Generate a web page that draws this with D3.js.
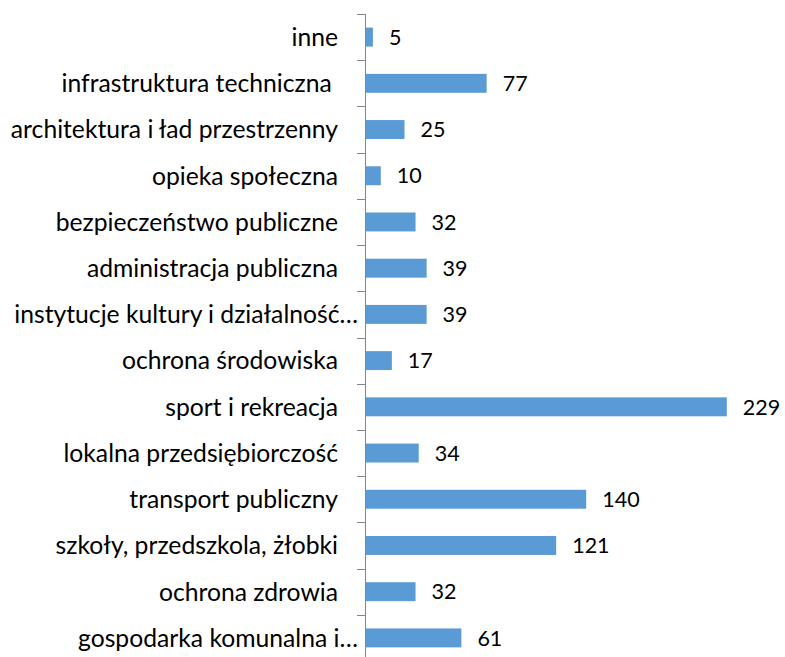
<!DOCTYPE html>
<html>
<head>
<meta charset="utf-8">
<script src="https://cdn.jsdelivr.net/npm/d3@7"></script>
<style>
  html, body { margin: 0; padding: 0; background: #fff; }
  svg { display: block; }
  text { font-family: Lato, "Open Sans", sans-serif; fill: #000; }
</style>
</head>
<body>
<svg id="chart" width="785" height="657"></svg>
<script>
// Categories listed top to bottom
const categories = [
  "inne",
  "infrastruktura techniczna ",
  "architektura i ład przestrzenny",
  "opieka społeczna",
  "bezpieczeństwo publiczne",
  "administracja publiczna",
  "instytucje kultury i działalność…",
  "ochrona środowiska",
  "sport i rekreacja",
  "lokalna przedsiębiorczość",
  "transport publiczny",
  "szkoły, przedszkola, żłobki",
  "ochrona zdrowia",
  "gospodarka komunalna i…"
];
const values = [5, 77, 25, 10, 32, 39, 39, 17, 229, 34, 140, 121, 32, 61];

const svg = d3.select("#chart");
const axisX = 365;
const labelRight = 338;      // right edge of full category labels
const truncatedRight = 358;  // shortened labels sit closer to the axis
const labelSize = 24.7;
const valueSize = 21.5;

const x = d3.scaleLinear().domain([0, 250]).range([axisX, axisX + 395]);
const y = d3.scaleBand().domain(categories).range([14, 661]).paddingInner(0.59).paddingOuter(0.295);

// Bars
svg.append("g").selectAll("rect")
  .data(categories)
  .join("rect")
  .attr("x", x(0))
  .attr("y", d => y(d))
  .attr("width", (d, i) => x(values[i]) - x(0))
  .attr("height", y.bandwidth())
  .attr("fill", "#5B9BD5");

// Value labels
svg.append("g").selectAll("text")
  .data(categories)
  .join("text")
  .attr("x", (d, i) => x(values[i]) + 16)
  .attr("y", d => y(d) + y.bandwidth() / 2)
  .attr("dy", "0.36em")
  .attr("font-size", valueSize)
  .text((d, i) => values[i]);

// Category axis: vertical line with ticks between categories
const step = y.step();
const axisTop = y(categories[0]) - (step - y.bandwidth()) / 2;
const ax = svg.append("g").attr("stroke", "#868686").attr("stroke-width", 1);
ax.append("line")
  .attr("x1", axisX + 0.5).attr("x2", axisX + 0.5)
  .attr("y1", axisTop).attr("y2", axisTop + step * categories.length);
ax.selectAll("line.tick")
  .data(d3.range(categories.length + 1))
  .join("line")
  .attr("class", "tick")
  .attr("x1", axisX - 8).attr("x2", axisX + 0.5)
  .attr("y1", i => Math.round(axisTop + i * step) + 0.5)
  .attr("y2", i => Math.round(axisTop + i * step) + 0.5);

// Category labels, right aligned
svg.append("g").selectAll("text")
  .data(categories)
  .join("text")
  .attr("x", d => d.endsWith("…") ? truncatedRight : labelRight)
  .attr("y", d => y(d) + y.bandwidth() / 2)
  .attr("dy", "0.36em")
  .attr("text-anchor", "end")
  .attr("font-size", labelSize)
  .style("white-space", "pre")
  .text(d => d);
</script>
</body>
</html>
